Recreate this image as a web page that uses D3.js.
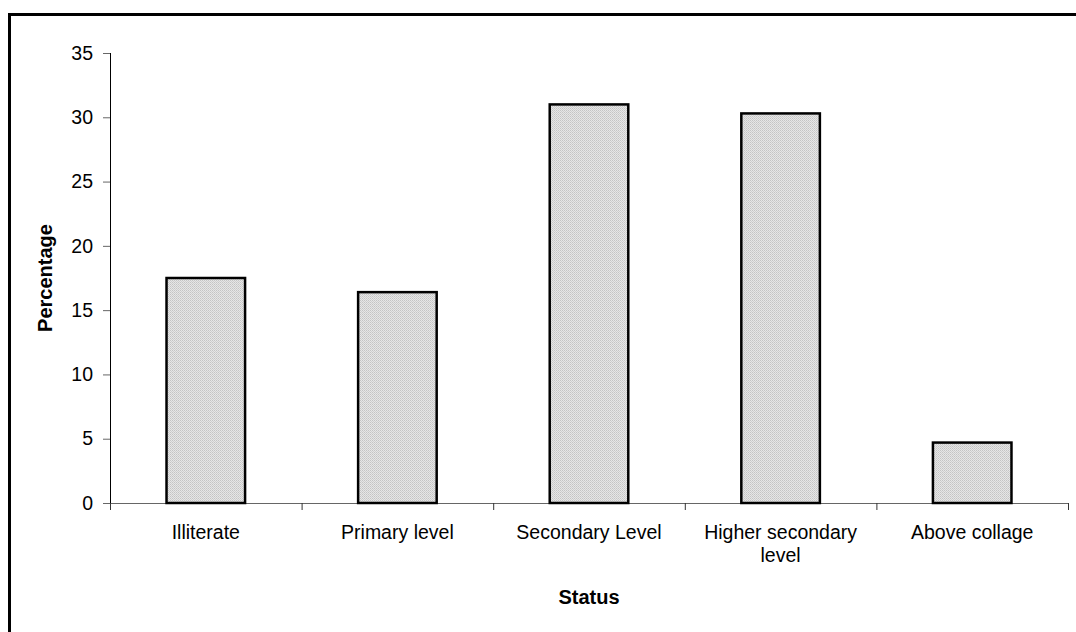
<!DOCTYPE html>
<html><head><meta charset="utf-8">
<script src="https://cdn.jsdelivr.net/npm/d3@7"></script>
<style>body{margin:0;background:#fff}svg{display:block;font-family:"Liberation Sans",Arial,sans-serif}</style>
</head><body>
<svg id="c" width="1076" height="632"></svg>
<script>
const categories = ["Illiterate", "Primary level", "Secondary Level", "Higher secondary level", "Above collage"];
const values = [17.5, 16.4, 31.0, 30.3, 4.7];
const yTicks = [0, 5, 10, 15, 20, 25, 30, 35];

(function () {
const svg = d3.select("#c");
const defs = svg.append("defs");
const pat = defs.append("pattern").attr("id", "dots").attr("patternUnits", "userSpaceOnUse")
  .attr("width", 2).attr("height", 2);
pat.append("rect").attr("width", 2).attr("height", 2).attr("fill", "#e6e6e6");
pat.append("rect").attr("width", 1).attr("height", 1).attr("fill", "#c4c4c4");
pat.append("rect").attr("x", 1).attr("y", 1).attr("width", 1).attr("height", 1).attr("fill", "#cfcfcf");

// outer frame
svg.append("rect").attr("x", 9.5).attr("y", 14.5).attr("width", 1100).attr("height", 700)
  .attr("fill", "none").attr("stroke", "#000").attr("stroke-width", 3);

const pLeft = 110, pRight = 1068, pTop = 53, pBottom = 503;
const fs = 19.5;
const x = d3.scaleBand().domain(categories).range([pLeft, pRight]).paddingInner(0).paddingOuter(0);
const y = d3.scaleLinear().domain([0, 35]).range([pBottom, pTop]);

// y axis
const ya = svg.append("g").attr("transform", `translate(${pLeft},0)`)
  .call(d3.axisLeft(y).tickValues(yTicks).tickSize(7).tickPadding(10));
ya.select(".domain").attr("stroke", "#000").attr("d", `M0.5,${pTop}V${pBottom}`);
ya.selectAll(".tick line").attr("stroke", "#666");
ya.selectAll("text").attr("font-size", fs).attr("fill", "#000").attr("font-family", "Liberation Sans, Arial, sans-serif");

// x axis: line with ticks at category boundaries
const bounds = categories.map(c => x(c)).concat([pRight]);
svg.append("line").attr("x1", pLeft - 7).attr("x2", pRight).attr("y1", pBottom + 0.5).attr("y2", pBottom + 0.5)
  .attr("stroke", "#666").attr("stroke-width", 1);
svg.selectAll(".xt").data(bounds).join("line").attr("class", "xt")
  .attr("x1", d => d + 0.5).attr("x2", d => d + 0.5).attr("y1", pBottom).attr("y2", pBottom + 7)
  .attr("stroke", "#333");

// bars
const bw = x.bandwidth() * 0.41;
svg.selectAll(".bar").data(values).join("rect").attr("class", "bar")
  .attr("x", (d, i) => x(categories[i]) + x.bandwidth() / 2 - bw / 2)
  .attr("y", d => y(d))
  .attr("width", bw)
  .attr("height", d => y(0) - y(d))
  .attr("fill", "url(#dots)").attr("stroke", "#000").attr("stroke-width", 2.5);

// category labels (wrap long ones)
const wrapMap = {"Higher secondary level": ["Higher secondary", "level"]};
categories.forEach(c => {
  const lines = wrapMap[c] || [c];
  const t = svg.append("text").attr("x", x(c) + x.bandwidth() / 2).attr("y", 539)
    .attr("text-anchor", "middle").attr("font-size", fs).attr("fill", "#000");
  lines.forEach((l, k) => t.append("tspan").attr("x", x(c) + x.bandwidth() / 2).attr("dy", k ? 23 : 0).text(l));
});

// axis titles
svg.append("text").attr("x", (pLeft + pRight) / 2).attr("y", 604).attr("text-anchor", "middle")
  .attr("font-size", 20).attr("font-weight", "bold").text("Status");
svg.append("text").attr("transform", `translate(52,278) rotate(-90)`).attr("text-anchor", "middle")
  .attr("font-size", 20).attr("font-weight", "bold").text("Percentage");
})();
</script>
</body></html>
